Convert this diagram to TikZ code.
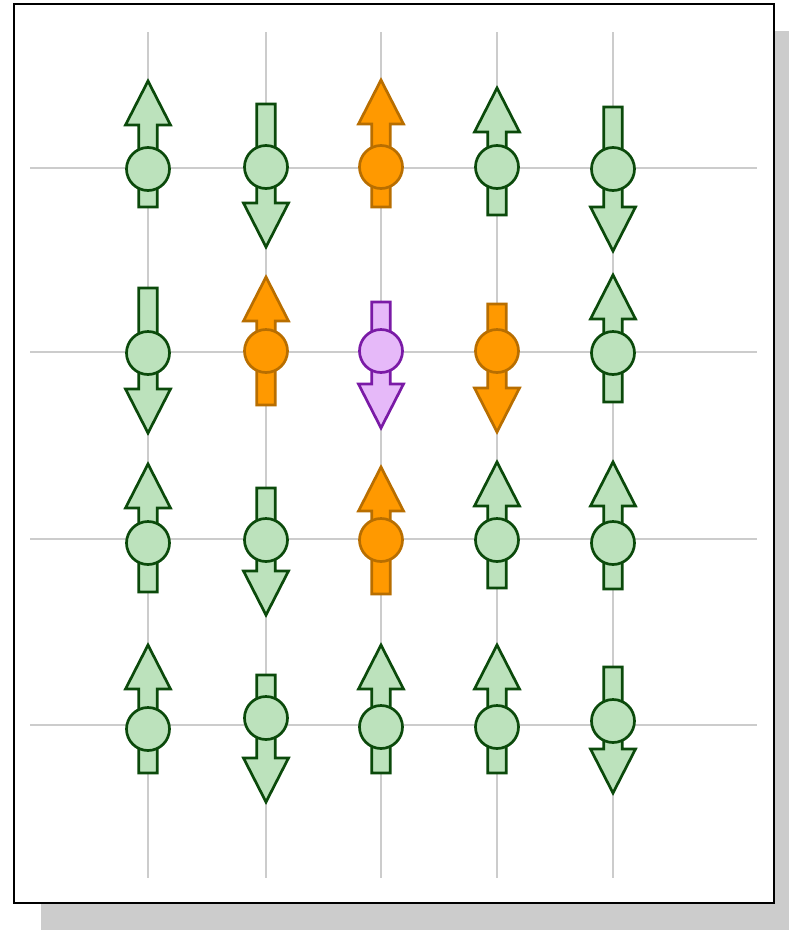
\documentclass[tikz,border=0pt]{standalone}
\usepackage{tikz}

\definecolor{gridgray}{HTML}{CCCCCC}
\definecolor{bulkfill}{HTML}{BCE2BC}
\definecolor{bulkline}{HTML}{0B4A0B}
\definecolor{flipfill}{HTML}{FF9900}
\definecolor{flipline}{HTML}{B86E00}
\definecolor{seedfill}{HTML}{E6B9F9}
\definecolor{seedline}{HTML}{7A1AA6}

\tikzset{
  bulkspin/.style={fill=bulkfill, draw=bulkline},
  flipspin/.style={fill=flipfill, draw=flipline},
  seedspin/.style={fill=seedfill, draw=seedline},
}

\begin{document}
\begin{tikzpicture}[x=1pt, y=-1pt, line join=miter]

        % fixed page size
        \useasboundingbox (0,0) rectangle (789,930);

        % frame with drop shadow
        \fill[gridgray] (41,31) rectangle (789,930);
        \draw[line width=2.2pt, fill=white] (14,4) rectangle (774,903);

        % lattice lines
        \foreach \gx in {148,266,381,497,613}
            \draw[gridgray, line width=2.6pt] (\gx,32) -- (\gx,878);
        \foreach \gy in {168,352,539,725}
            \draw[gridgray, line width=2.6pt] (30,\gy) -- (757,\gy);

        % spins: x / tail / tip / centre of ball / style
        \foreach \sx/\ta/\tp/\cy/\st in {
            148/207/81/169/bulkspin, 266/104/247/167/bulkspin, 381/207/80/167/flipspin,
            497/215/88/167/bulkspin, 613/107/251/169/bulkspin,
            148/288/433/353/bulkspin, 266/405/277/351/flipspin, 381/302/428/351/seedspin,
            497/304/432/351/flipspin, 613/402/275/353/bulkspin,
            148/592/464/543/bulkspin, 266/488/615/540/bulkspin, 381/594/467/540/flipspin,
            497/588/462/540/bulkspin, 613/589/462/543/bulkspin,
            148/773/645/729/bulkspin, 266/675/802/718/bulkspin, 381/773/645/727/bulkspin,
            497/773/645/727/bulkspin, 613/667/793/721/bulkspin} {
            \pgfmathsetmacro{\hb}{\tp + 44*sign(\ta - \tp)}
            % block arrow
            \draw[\st, line width=2.7pt]
                (\sx-9.3,\ta) -- (\sx+9.3,\ta) -- (\sx+9.3,\hb) -- (\sx+22.5,\hb)
                -- (\sx,\tp) -- (\sx-22.5,\hb) -- (\sx-9.3,\hb) -- cycle;
            % ball
            \draw[\st, line width=2.7pt] (\sx,\cy) circle (21.5);
        }

\end{tikzpicture}
\end{document}
